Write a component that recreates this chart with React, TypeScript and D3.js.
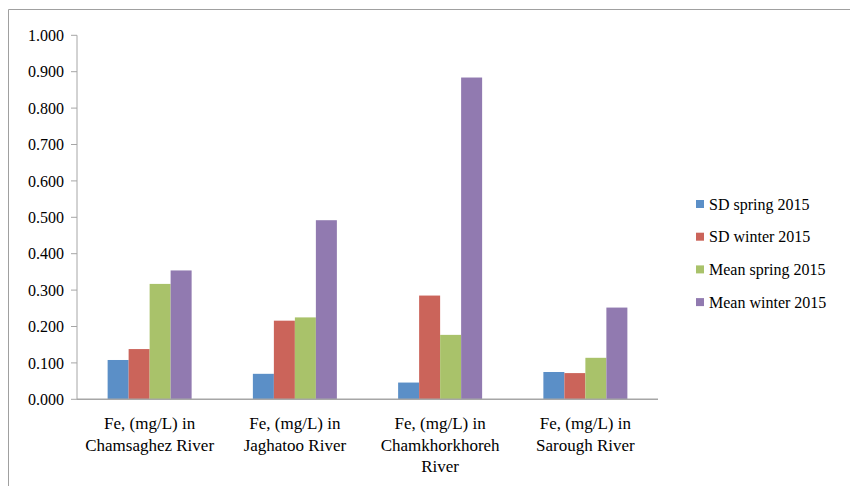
import React from "react";
import * as d3 from "d3";

const categories: string[][] = [
  ["Fe, (mg/L) in", "Chamsaghez River"],
  ["Fe, (mg/L) in", "Jaghatoo River"],
  ["Fe, (mg/L) in", "Chamkhorkhoreh", "River"],
  ["Fe, (mg/L) in", "Sarough River"],
];
const seriesNames = ["SD spring 2015", "SD winter 2015", "Mean spring 2015", "Mean winter 2015"];
const sdSpring = [0.108, 0.07, 0.046, 0.075];
const sdWinter = [0.138, 0.216, 0.285, 0.072];
const meanSpring = [0.317, 0.225, 0.177, 0.114];
const meanWinter = [0.354, 0.492, 0.884, 0.252];
const colors = ["#5b8fc7", "#cb645a", "#a9c26a", "#917ab0"];
const yTicks = [0, 0.1, 0.2, 0.3, 0.4, 0.5, 0.6, 0.7, 0.8, 0.9, 1.0];

const seriesValues = [sdSpring, sdWinter, meanSpring, meanWinter];

const FONT = "Liberation Serif";

export default function App() {
  const W = 850, H = 486;
  const left = 77, right = 658, top = 35.3, bottom = 399.3;
  const x0 = d3.scaleBand<number>().domain(d3.range(categories.length)).range([left, right]).paddingInner(0).paddingOuter(0);
  const y = d3.scaleLinear().domain([0, 1]).range([bottom, top]);
  const bw = 21;
  const groupW = bw * seriesNames.length;
  return (
    <svg width={W} height={H} style={{ position: "absolute", left: 0, top: 0 }} fontFamily={FONT}>
      <rect x={0} y={0} width={W} height={H} fill="#fff" />
      <path d={`M8.5,${H + 5} V9.5 H${W + 5}`} fill="none" stroke="#a0a0a0" strokeWidth={1} />
      {/* y axis */}
      <line x1={left} x2={left} y1={top} y2={bottom} stroke="#a6a6a6" />
      {yTicks.map((t) => (
        <g key={t}>
          <line x1={left - 6} x2={left} y1={y(t)} y2={y(t)} stroke="#a6a6a6" />
          <text x={left - 13} y={y(t)} dy="0.35em" textAnchor="end" fontFamily={FONT} fontSize={16} fill="#000">
            {t.toFixed(3)}
          </text>
        </g>
      ))}
      {/* bars */}
      {categories.map((_, ci) => {
        const gx = (x0(ci) as number) + (x0.bandwidth() - groupW) / 2;
        return seriesValues.map((vals, si) => (
          <rect
            key={`${ci}-${si}`}
            x={gx + si * bw}
            y={y(vals[ci])}
            width={bw}
            height={bottom - y(vals[ci])}
            fill={colors[si]}
          />
        ));
      })}
      <line x1={left} x2={right} y1={bottom} y2={bottom} stroke="#a6a6a6" strokeWidth={1.5} />
      {/* x labels */}
      {categories.map((lines, ci) => {
        const cx = (x0(ci) as number) + x0.bandwidth() / 2;
        return (
          <text key={ci} x={cx} y={429} textAnchor="middle" fontFamily={FONT} fontSize={17} fill="#000">
            {lines.map((l, li) => (
              <tspan key={li} x={cx} dy={li === 0 ? 0 : 21.7}>
                {l}
              </tspan>
            ))}
          </text>
        );
      })}
      {/* legend */}
      {seriesNames.map((n, i) => {
        const cy = 204 + i * 32.7;
        return (
          <g key={n}>
            <rect x={696} y={cy - 4} width={8} height={8} fill={colors[i]} />
            <text x={709} y={cy} dy="0.35em" fontFamily={FONT} fontSize={16} fill="#000">
              {n}
            </text>
          </g>
        );
      })}
    </svg>
  );
}
